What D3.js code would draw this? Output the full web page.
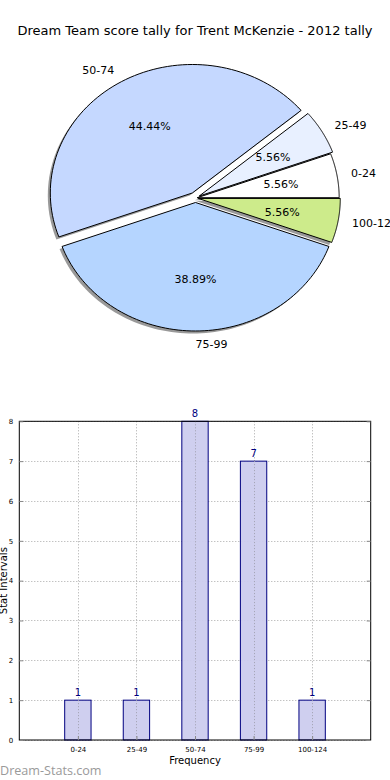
<!DOCTYPE html>
<html><head><meta charset="utf-8">
<script src="https://cdn.jsdelivr.net/npm/d3@7"></script>
<style>html,body{margin:0;padding:0;background:#fff;}svg{display:block;font-family:"DejaVu Sans",sans-serif;}</style>
</head><body>
<script>
const title = "Dream Team score tally for Trent McKenzie - 2012 tally";
const categories = ["0-24","25-49","50-74","75-99","100-124"];
const counts = [1,1,8,7,1];
const pieColors = ["#ffffff","#e8f0ff","#c5d8ff","#b5d5ff","#cdeb8b"];
const explode = [0.012,0.03,0.045,0.035,0.02];
const yTicks = [0,1,2,3,4,5,6,7,8];
const xLabel = "Frequency";
const yLabel = "Stat Intervals";
const watermark = "Dream-Stats.com";

const W = 390, H = 780;
const svg = d3.select("body").append("svg").attr("width", W).attr("height", H);

svg.append("text").attr("x", 195).attr("y", 35).attr("text-anchor","middle")
  .attr("font-size", 13).attr("fill","#000").text(title);

// ---- Pie (elliptical, matplotlib style, counter-clockwise from 0°) ----
const cx = 195.5, cy = 198, rx = 142, ry = 128.5;
const total = d3.sum(counts);
const pieG = svg.append("g");
const ang = d3.scaleLinear().domain([0, total]).range([0, 2*Math.PI]);
let cum = 0;
const slices = counts.map((v,i) => { const s = {i, v, a0: ang(cum), a1: ang(cum+v)}; cum += v; s.am = (s.a0+s.a1)/2; return s; });

function wedgePath(s, ox, oy) {
  const n = 80; const pts = [[ox, oy]];
  for (let k=0;k<=n;k++){ const a = s.a0 + (s.a1-s.a0)*k/n; pts.push([ox + rx*Math.cos(a), oy - ry*Math.sin(a)]); }
  return d3.line()(pts) + "Z";
}
slices.forEach(s => {
  s.ox = cx + explode[s.i]*rx*Math.cos(s.am);
  s.oy = cy - explode[s.i]*ry*Math.sin(s.am);
});
// shadows
slices.forEach(s => {
  pieG.append("path").attr("d", wedgePath(s, s.ox - 2.5, s.oy + 2.5))
    .attr("fill", "#555").attr("fill-opacity", 0.6).attr("stroke","none");
});
slices.forEach(s => {
  pieG.append("path").attr("d", wedgePath(s, s.ox, s.oy))
    .attr("fill", pieColors[s.i]).attr("stroke","#000").attr("stroke-width",1).attr("stroke-linejoin","round");
});
slices.forEach(s => {
  const c = Math.cos(s.am), sn = Math.sin(s.am);
  const lx = s.ox + 1.1*rx*c, ly = s.oy - 1.1*ry*sn;
  pieG.append("text").attr("x", lx).attr("y", ly).attr("dy","0.35em")
    .attr("text-anchor", c >= -1e-9 ? "start" : "end").attr("font-size", 11).text(categories[s.i]);
  const px = s.ox + 0.6*rx*c, py = s.oy - 0.6*ry*sn;
  pieG.append("text").attr("x", px).attr("y", py).attr("dy","0.35em")
    .attr("text-anchor","middle").attr("font-size", 11).text((s.v/total*100).toFixed(2)+"%");
});

// ---- Bar chart ----
const L = 19.3, R = 370.7, T = 421.3, B = 740;
const x = d3.scaleLinear().domain([-1, categories.length]).range([L, R]);
const y = d3.scaleLinear().domain([0, 8]).range([B, T]);
const bw = 0.45 * (x(1)-x(0));
const g = svg.append("g");

// grid
g.selectAll(".gy").data(yTicks).enter().append("line")
  .attr("x1", L).attr("x2", R).attr("y1", d=>Math.round(y(d))+0.5).attr("y2", d=>Math.round(y(d))+0.5)
  .attr("stroke","#a8a8a8").attr("stroke-width",1).attr("stroke-dasharray","1,2");
g.selectAll(".gx").data(categories).enter().append("line")
  .attr("x1",(d,i)=>Math.round(x(i))+0.5).attr("x2",(d,i)=>Math.round(x(i))+0.5).attr("y1", T).attr("y2", B)
  .attr("stroke","#a8a8a8").attr("stroke-width",1).attr("stroke-dasharray","1,2");

// bars
g.selectAll(".bar").data(counts).enter().append("rect")
  .attr("x",(d,i)=>x(i)-bw/2).attr("width", bw)
  .attr("y", d=>y(d)).attr("height", d=>B-y(d))
  .attr("fill","#ccccee").attr("fill-opacity",0.95).attr("stroke","#000080").attr("stroke-width",1);
// grid over bars
g.selectAll(".gx2").data(categories).enter().append("line")
  .attr("x1",(d,i)=>Math.round(x(i))+0.5).attr("x2",(d,i)=>Math.round(x(i))+0.5)
  .attr("y1",(d,i)=>y(counts[i])).attr("y2", B)
  .attr("stroke","#a0a0b0").attr("stroke-width",1).attr("stroke-dasharray","1,2");

g.selectAll(".vl").data(counts).enter().append("text")
  .attr("x",(d,i)=>x(i)).attr("y", d=>y(d)-4).attr("text-anchor","middle")
  .attr("font-size", 10).attr("fill","#000080").text(d=>d);

// axes frame
g.append("rect").attr("x",L).attr("y",T).attr("width",R-L).attr("height",B-T)
  .attr("fill","none").attr("stroke","#000").attr("stroke-width",1);

const yAxis = d3.axisLeft(y).tickValues(yTicks).tickSize(-4).tickPadding(6).tickFormat(d3.format("d"));
const ya = g.append("g").attr("transform",`translate(${L},0)`).call(yAxis);
ya.select(".domain").remove();
ya.selectAll("text").attr("font-size",7).attr("font-family","DejaVu Sans, sans-serif");
ya.selectAll("line").attr("stroke","#888");
const yAxisR = d3.axisRight(y).tickValues(yTicks).tickSize(-4).tickFormat("");
const yar = g.append("g").attr("transform",`translate(${R},0)`).call(yAxisR);
yar.select(".domain").remove(); yar.selectAll("line").attr("stroke","#888");

const xAxis = d3.axisBottom(x).tickValues(d3.range(categories.length)).tickSize(-4).tickPadding(7).tickFormat(i=>categories[i]);
const xa = g.append("g").attr("transform",`translate(0,${B})`).call(xAxis);
xa.select(".domain").remove();
xa.selectAll("text").attr("font-size",7).attr("font-family","DejaVu Sans, sans-serif");
xa.selectAll("line").attr("stroke","#888");

svg.append("text").attr("x",(L+R)/2).attr("y",764).attr("text-anchor","middle").attr("font-size",10).text(xLabel);
svg.append("text").attr("transform",`translate(7,${(T+B)/2}) rotate(-90)`).attr("text-anchor","middle")
  .attr("font-size",10).text(yLabel);

svg.append("text").attr("x",0).attr("y",775).attr("font-size",12.6).attr("fill","#9a9a9a")
  .attr("font-family","Open Sans, DejaVu Sans, sans-serif").text(watermark);
</script>
</body></html>
